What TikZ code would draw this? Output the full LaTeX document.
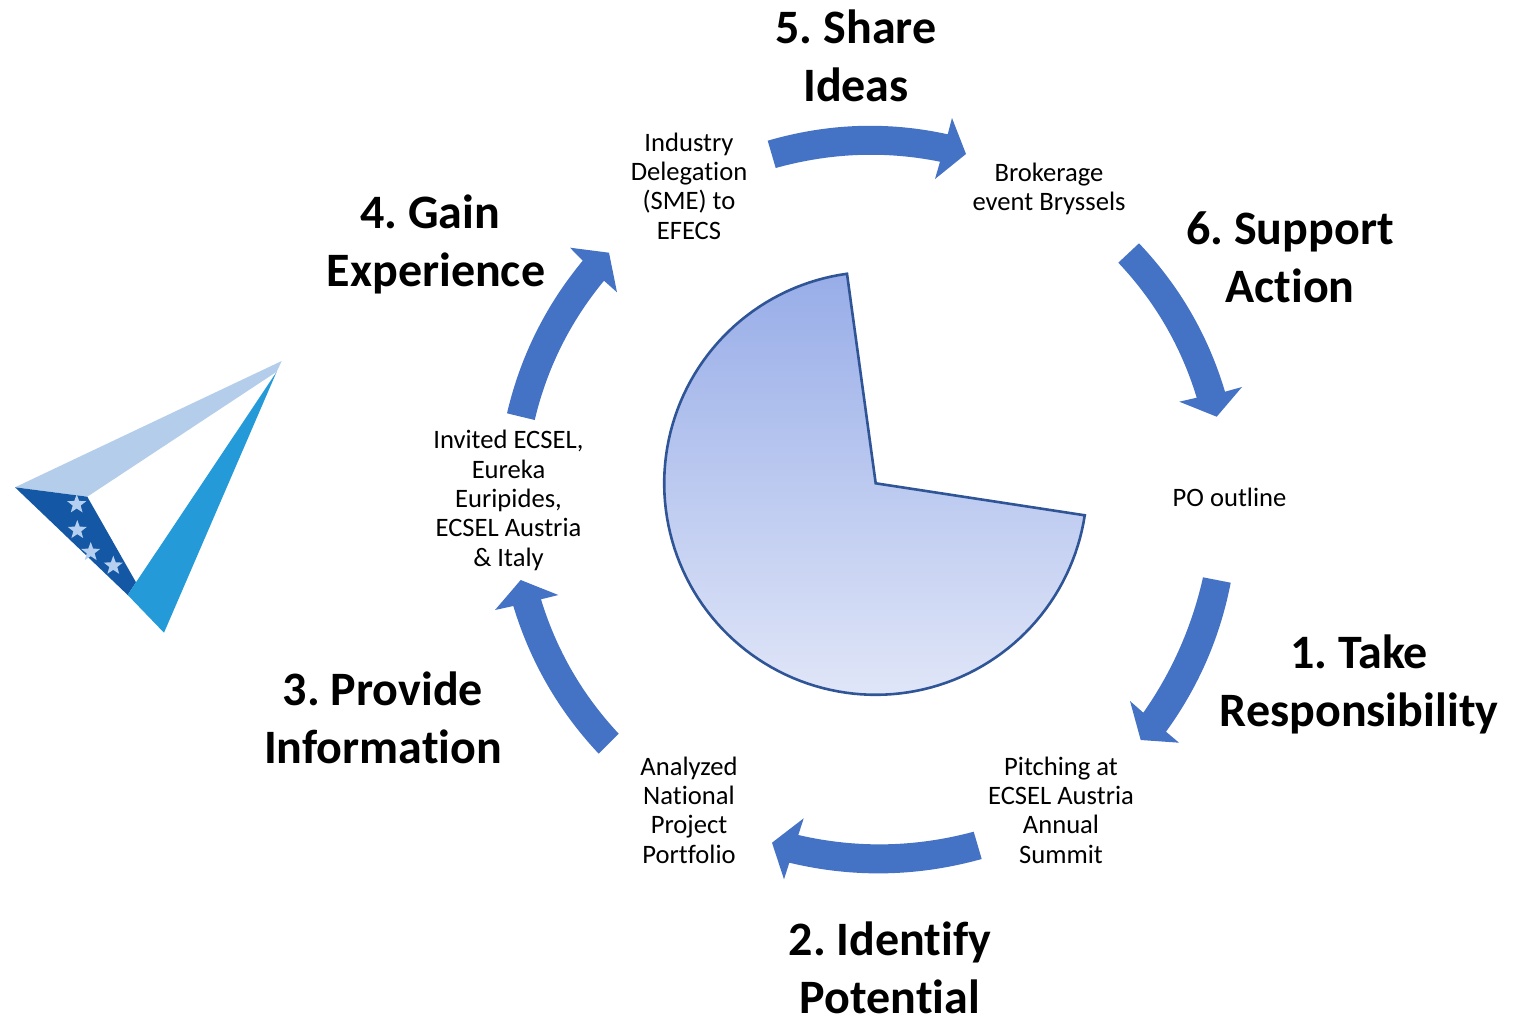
\documentclass[tikz,border=0pt]{standalone}
\usepackage{fontspec}
\setmainfont[Ligatures=NoCommon]{Carlito}
\usetikzlibrary{shapes.geometric,calc}
\frenchspacing
\definecolor{arrowblue}{HTML}{4472C4}
\definecolor{pieline}{HTML}{2F5597}
\definecolor{pietop}{HTML}{98ADE8}
\definecolor{piebot}{HTML}{E0E6F8}
\definecolor{logolight}{HTML}{B3CDEB}
\definecolor{logodark}{HTML}{1457A4}
\definecolor{logomid}{HTML}{259AD8}
\definecolor{logostar}{HTML}{B4CFEF}
\tikzset{
  stepnote/.style={align=center,inner sep=0pt,font=\fontsize{26.6}{29.3}\selectfont},
  phase/.style={align=center,inner sep=0pt,font=\fontsize{48}{58}\selectfont\bfseries},
  blockarrow/.style={fill=arrowblue,draw=none},
  logostarshape/.style={star,star points=5,star point ratio=2.4,fill=logostar,draw=none,inner sep=0pt,minimum size=20pt},
}
% tail corner, curve control, head corner, head outline, head corner, curve control, tail corner
\newcommand{\curvedarrow}[7]{%
  \fill[blockarrow] (#1) .. controls ($(#1)!0.6667!(#2)$) and ($(#3)!0.6667!(#2)$) .. (#3)
    #4 -- (#5) .. controls ($(#5)!0.6667!(#6)$) and ($(#7)!0.6667!(#6)$) .. (#7) -- cycle;}
\begin{document}
\begin{tikzpicture}[x=1pt,y=-1pt]
\useasboundingbox (0,0) rectangle (1521,1017);
% centre pie
\filldraw[draw=pieline,line width=2.6pt,line join=miter,top color=pietop,bottom color=piebot]
  (875.7,483.3) -- plot[domain=97.8:351.3,samples=120,variable=\a] ({875.7+211.5*cos(\a)},{483.3-211.5*sin(\a)}) -- cycle;
% block arrows
\curvedarrow{767.7,140.7}{857.7,114.5}{947.7,134.3}{-- (952,118) -- (966,154) -- (935,179)}{940,161.7}{857.85,145.15}{775.7,168}
\curvedarrow{1139,243.3}{1199.8,307.2}{1225,391.7}{-- (1242,387) -- (1216.7,416.7) -- (1179.3,401.7)}{1196.7,397.7}{1173.4,321}{1118.3,262.7}
\curvedarrow{1230.7,582.7}{1214.9,664.4}{1166,731.7}{-- (1179,742.7) -- (1140.7,740) -- (1130,701)}{1143.3,712.7}{1186.5,650.9}{1203,577.3}
\curvedarrow{973.7,831.7}{886,855.25}{798.3,835}{-- (803.7,818.3) -- (772,842.7) -- (784,879.3)}{789.3,862.7}{885.5,885.75}{981.7,859}
\curvedarrow{598.7,753.7}{538.7,689.85}{513.3,606}{-- (495,610) -- (520.7,580) -- (558.3,595)}{541,599.3}{564.25,675.5}{618.7,733.7}
\curvedarrow{507,413.3}{526.95,328.1}{582.7,260.7}{-- (570,247.7) -- (609,252.7) -- (617,292.3)}{604,280.7}{553.2,342.3}{534.7,420}
% step notes
\node[stepnote] (industry) at (689,186) {Industry\\Delegation\\(SME) to\\EFECS};
\node[stepnote] (brokerage) at (1049,189) {Brokerage\\event Bryssels};
\node[stepnote] (po) at (1229.5,497) {PO outline};
\node[stepnote] (pitching) at (1061,810) {Pitching at\\ECSEL Austria\\Annual\\Summit};
\node[stepnote] (portfolio) at (689,810) {Analyzed\\National\\Project\\Portfolio};
\node[stepnote] (invited) at (508.5,500.5) {Invited ECSEL,\\Eureka\\Euripides,\\ECSEL Austria\\\& Italy};
% phase titles
\node[phase] (share) at (856,55.5) {5. Share\\Ideas};
\node[phase] (support) at (1290,257.5) {6. Support\\Action};
\node[phase] (take) at (1359,684.5) {1. Take\\Responsibility};
\node[phase] (identify) at (890,968) {2. Identify\\Potential};
\node[phase] (provide) at (383,717.5) {3. Provide\\Information};
\node[phase] (gain) at (436,244) {4. Gain\hspace*{12pt}\\Experience};
% logo
\fill[logolight] (15,487.3) -- (281.7,361) -- (276.7,371.7) -- (87.3,496.7) -- cycle;
\fill[logodark] (15,487.3) -- (87.3,496.7) -- (136,582.3) -- (127.7,595) -- cycle;
\fill[logomid] (127.7,595) -- (136,582.3) -- (276.7,371.7) -- (164,632.7) -- cycle;
\node[logostarshape] (star1) at (76.7,504.3) {};
\node[logostarshape] (star2) at (77.3,530) {};
\node[logostarshape] (star3) at (90.7,552) {};
\node[logostarshape] (star4) at (113.3,565.7) {};
\end{tikzpicture}
\end{document}
